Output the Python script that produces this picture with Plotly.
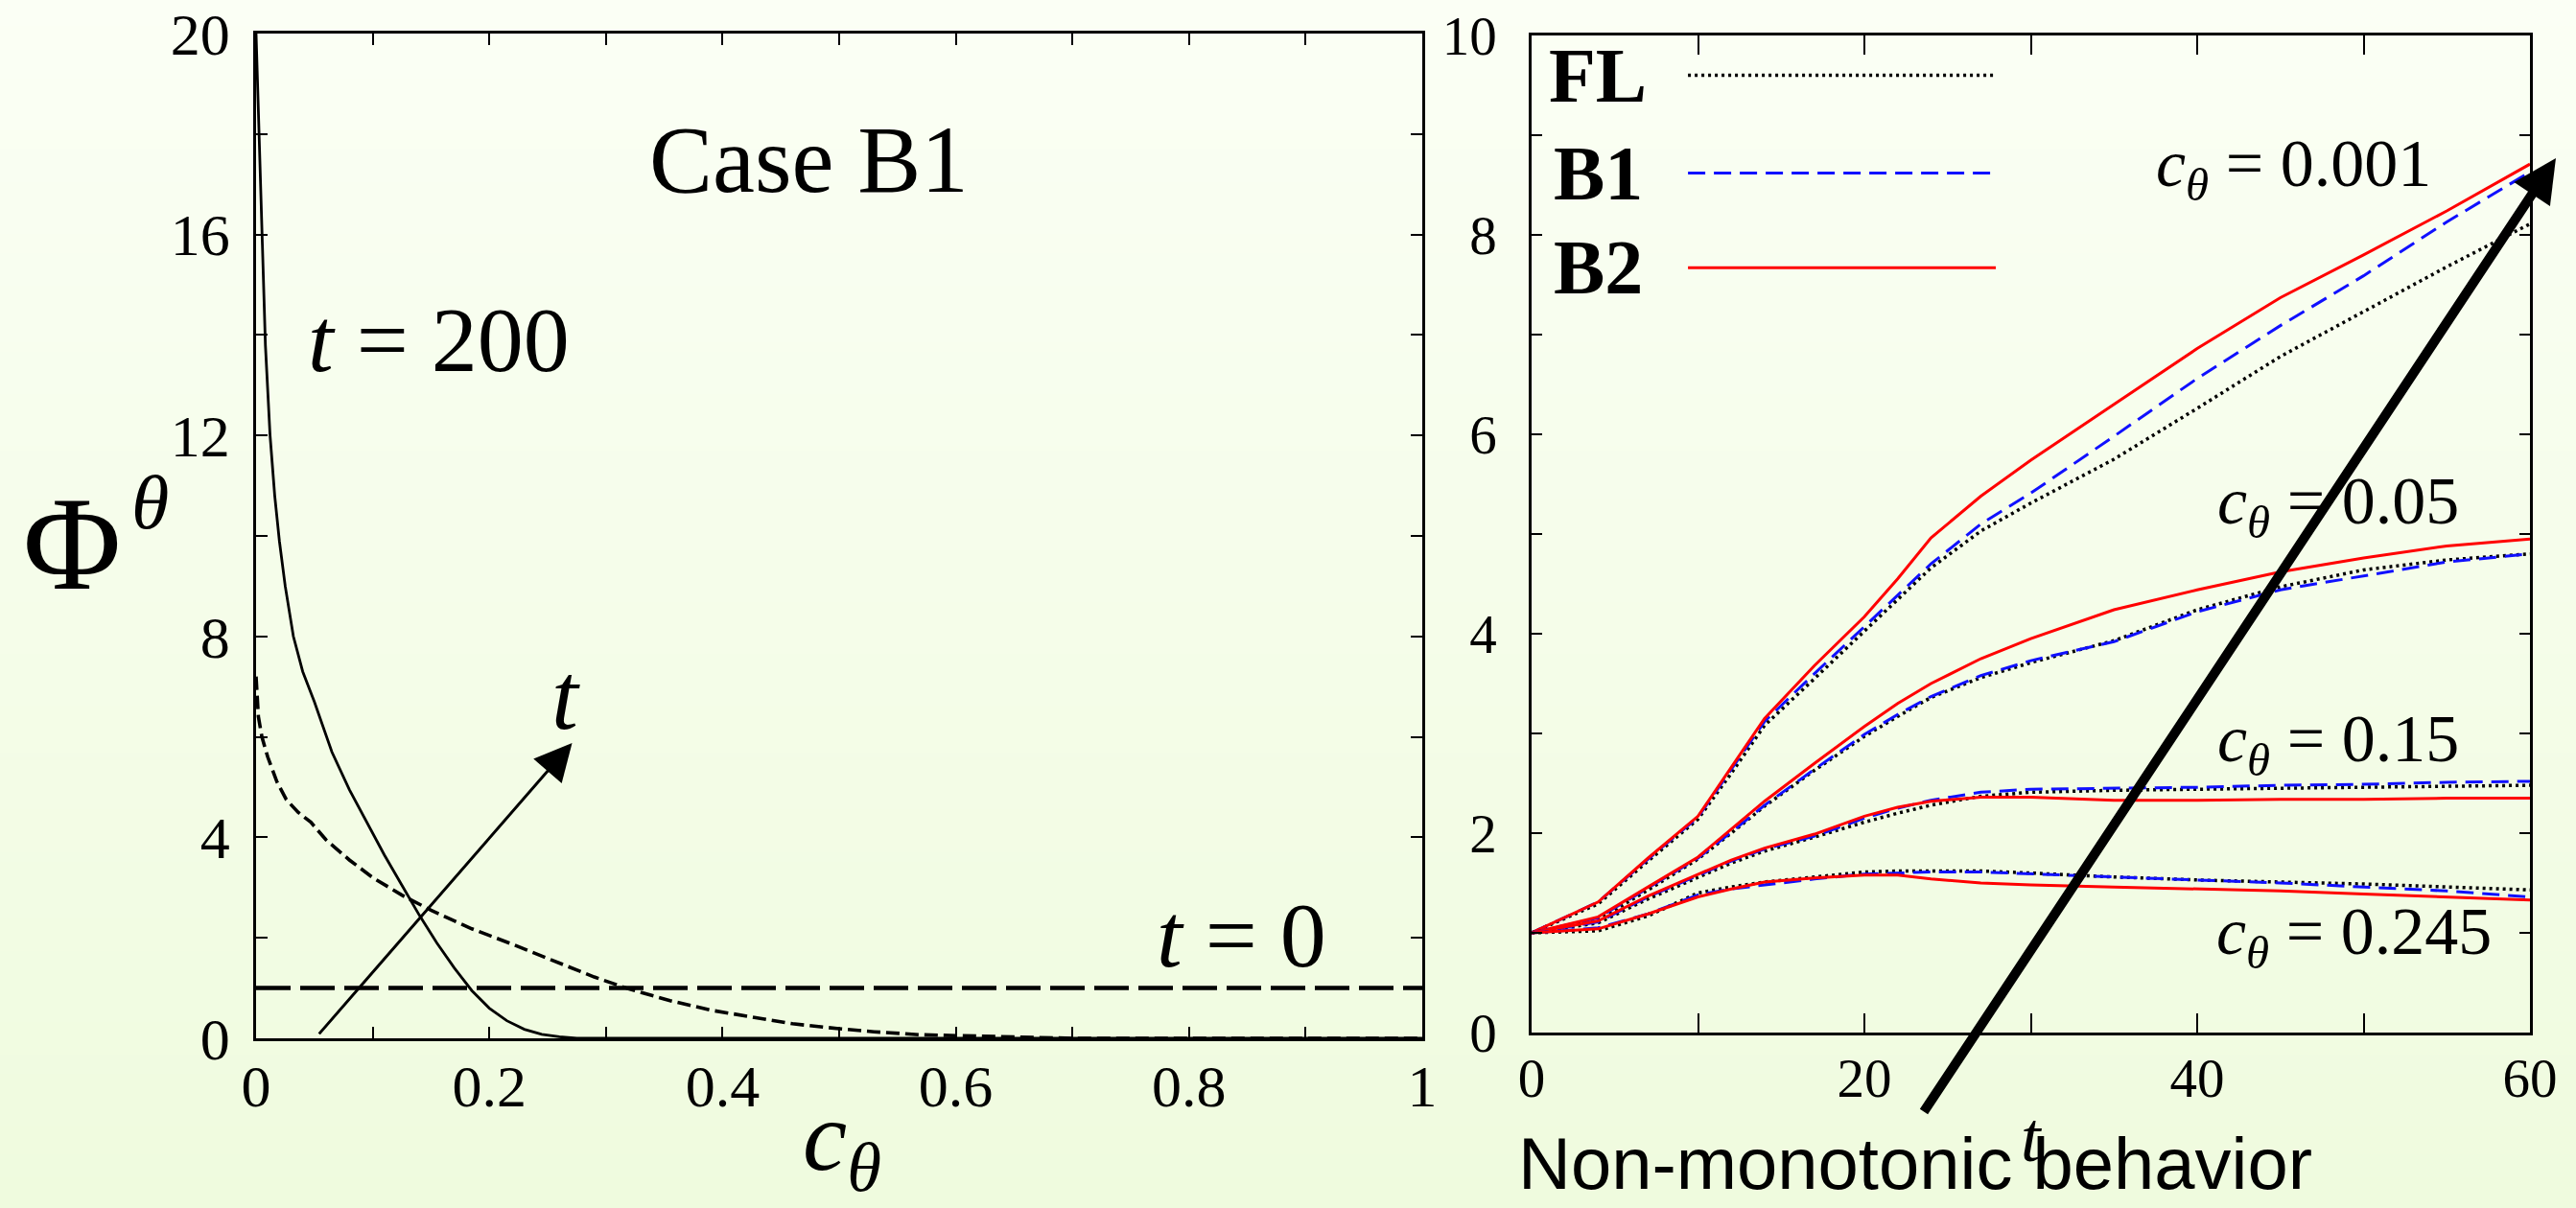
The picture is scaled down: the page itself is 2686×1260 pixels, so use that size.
import plotly.graph_objects as go
import zlib, struct, base64

W, H = 2686, 1260

# ---------------- Left panel data (Case B1) ----------------
c_t0 = [0.0, 1.0]
phi_t0 = [1.0, 1.0]

c_mid = [0.0, 0.002, 0.005, 0.010, 0.018, 0.026, 0.036, 0.047, 0.060, 0.080, 0.100,
         0.125, 0.150, 0.185, 0.220, 0.255, 0.290, 0.320, 0.355, 0.390, 0.430, 0.460,
         0.500, 0.530, 0.570, 0.600, 0.650, 0.700, 1.0]
phi_mid = [7.2, 6.4, 6.0, 5.6, 5.1, 4.75, 4.5, 4.3, 3.95, 3.55, 3.2,
           2.85, 2.55, 2.18, 1.87, 1.55, 1.22, 0.98, 0.75, 0.56, 0.40, 0.29,
           0.19, 0.13, 0.07, 0.05, 0.02, 0.0, 0.0]

c_end = [0.0, 0.002, 0.005, 0.008, 0.012, 0.016, 0.020, 0.025, 0.032, 0.040, 0.050,
         0.065, 0.080, 0.095, 0.110, 0.125, 0.140, 0.155, 0.170, 0.185, 0.200, 0.215,
         0.230, 0.245, 0.260, 0.275, 0.30, 0.40, 0.60, 1.0]
phi_end = [20.0, 18.4, 15.8, 13.8, 12.0, 10.8, 9.9, 9.0, 8.0, 7.3, 6.7,
           5.7, 4.95, 4.3, 3.65, 3.05, 2.45, 1.9, 1.4, 0.95, 0.6, 0.35,
           0.18, 0.08, 0.03, 0.0, 0.0, 0.0, 0.0, 0.0]

left_x_ticks = [0, 0.1, 0.2, 0.3, 0.4, 0.5, 0.6, 0.7, 0.8, 0.9, 1.0]
left_x_text = ["0", "", "0.2", "", "0.4", "", "0.6", "", "0.8", "", "1"]
left_y_ticks = [0, 2, 4, 6, 8, 10, 12, 14, 16, 18, 20]
left_y_text = ["0", "", "4", "", "8", "", "12", "", "16", "", "20"]

# ---------------- Right panel data ----------------
t = [0, 4, 7, 10, 12, 14, 17, 20, 22, 24, 27, 30, 35, 40, 45, 50, 55, 60]

b2_0001 = [1.0, 1.31, 1.75, 2.17, 2.66, 3.15, 3.68, 4.17, 4.55, 4.96, 5.38, 5.74, 6.30, 6.86, 7.37, 7.80, 8.24, 8.71]
b1_0001 = [1.0, 1.31, 1.74, 2.16, 2.64, 3.12, 3.60, 4.07, 4.38, 4.70, 5.10, 5.41, 5.98, 6.56, 7.09, 7.59, 8.13, 8.63]
fl_0001 = [1.0, 1.29, 1.72, 2.14, 2.60, 3.08, 3.55, 4.03, 4.35, 4.66, 5.03, 5.31, 5.75, 6.26, 6.78, 7.23, 7.68, 8.11]

b2_005 = [1.0, 1.16, 1.46, 1.76, 2.04, 2.32, 2.70, 3.07, 3.30, 3.50, 3.75, 3.95, 4.24, 4.44, 4.62, 4.76, 4.88, 4.95]
b1_005 = [1.0, 1.15, 1.45, 1.75, 2.01, 2.28, 2.64, 2.99, 3.19, 3.37, 3.58, 3.73, 3.92, 4.22, 4.44, 4.58, 4.72, 4.80]
fl_005 = [1.0, 1.13, 1.43, 1.74, 2.00, 2.27, 2.63, 2.97, 3.17, 3.36, 3.56, 3.71, 3.93, 4.24, 4.47, 4.64, 4.74, 4.80]

b2_015 = [1.0, 1.12, 1.37, 1.59, 1.73, 1.85, 1.99, 2.17, 2.26, 2.32, 2.36, 2.36, 2.33, 2.33, 2.34, 2.34, 2.35, 2.35]
b1_015 = [1.0, 1.11, 1.36, 1.58, 1.72, 1.84, 1.97, 2.15, 2.25, 2.33, 2.41, 2.44, 2.45, 2.46, 2.48, 2.49, 2.51, 2.52]
fl_015 = [1.0, 1.10, 1.34, 1.56, 1.70, 1.82, 1.96, 2.11, 2.20, 2.28, 2.37, 2.41, 2.43, 2.44, 2.45, 2.46, 2.47, 2.48]

b2_0245 = [1.0, 1.04, 1.19, 1.36, 1.44, 1.51, 1.55, 1.58, 1.58, 1.54, 1.50, 1.48, 1.46, 1.44, 1.42, 1.39, 1.36, 1.33]
b1_0245 = [1.0, 1.05, 1.19, 1.38, 1.44, 1.48, 1.54, 1.59, 1.60, 1.61, 1.61, 1.59, 1.56, 1.53, 1.50, 1.46, 1.42, 1.36]
fl_0245 = [1.0, 1.02, 1.17, 1.40, 1.46, 1.51, 1.56, 1.61, 1.62, 1.62, 1.62, 1.60, 1.56, 1.53, 1.51, 1.49, 1.46, 1.43]

right_x_ticks = [0, 10, 20, 30, 40, 50, 60]
right_x_text = ["0", "", "20", "", "40", "", "60"]
right_y_ticks = [0, 1, 2, 3, 4, 5, 6, 7, 8, 9, 10]
right_y_text = ["0", "", "2", "", "4", "", "6", "", "8", "", "10"]

c_labels = ["0.001", "0.05", "0.15", "0.245"]
legend_names = ["FL", "B1", "B2"]

# ---------------- styles ----------------
SERIF = "Liberation Serif"
SANS = "Liberation Sans"
FL_STYLE = dict(color="black", width=3.5, dash="3px,4px")
B1_STYLE = dict(color="#1010ff", width=3, dash="18px,9px")
B2_STYLE = dict(color="#ff0000", width=3)


def gradient_png(h, top, bot):
    raw = b""
    for i in range(h):
        f = i / (h - 1)
        raw += b"\x00" + bytes(round(top[k] + (bot[k] - top[k]) * f) for k in range(3))

    def chunk(tag, data):
        return (struct.pack(">I", len(data)) + tag + data +
                struct.pack(">I", zlib.crc32(tag + data) & 0xffffffff))

    png = (b"\x89PNG\r\n\x1a\n" +
           chunk(b"IHDR", struct.pack(">IIBBBBB", 1, h, 8, 2, 0, 0, 0)) +
           chunk(b"IDAT", zlib.compress(raw)) + chunk(b"IEND", b""))
    return "data:image/png;base64," + base64.b64encode(png).decode()


def P(px, py):
    return px / W, 1 - py / H


def txt(x, y, text, size, ref=("paper", "paper"), family=SERIF):
    return dict(x=x, y=y, xref=ref[0], yref=ref[1], text=text, showarrow=False,
                xanchor="center", yanchor="middle",
                font=dict(family=family, size=size, color="black"))


fig = go.Figure()

# Left panel traces
fig.add_trace(go.Scatter(x=c_t0, y=phi_t0, mode="lines", xaxis="x", yaxis="y",
                         line=dict(color="black", width=4.5, dash="36px,10px"), showlegend=False))
fig.add_trace(go.Scatter(x=c_mid, y=phi_mid, mode="lines", xaxis="x", yaxis="y",
                         line=dict(color="black", width=3.6, dash="14px,6px"), showlegend=False))
fig.add_trace(go.Scatter(x=c_end, y=phi_end, mode="lines", xaxis="x", yaxis="y",
                         line=dict(color="black", width=2.8), showlegend=False))

# Right panel traces
for fl, b1, b2 in [(fl_0001, b1_0001, b2_0001), (fl_005, b1_005, b2_005),
                   (fl_015, b1_015, b2_015), (fl_0245, b1_0245, b2_0245)]:
    fig.add_trace(go.Scatter(x=t, y=fl, mode="lines", xaxis="x2", yaxis="y2",
                             line=FL_STYLE, showlegend=False))
    fig.add_trace(go.Scatter(x=t, y=b1, mode="lines", xaxis="x2", yaxis="y2",
                             line=B1_STYLE, showlegend=False))
    fig.add_trace(go.Scatter(x=t, y=b2, mode="lines", xaxis="x2", yaxis="y2",
                             line=B2_STYLE, showlegend=False))

axis_common = dict(showline=True, linecolor="black", linewidth=2.5, mirror="ticks",
                   ticks="inside", tickcolor="black", tickwidth=2, showgrid=False,
                   zeroline=False, tickmode="array", automargin=False)

fig.update_layout(
    width=W, height=H, autosize=False,
    margin=dict(l=0, r=0, t=0, b=0, pad=0, autoexpand=False),
    paper_bgcolor="#f6fdec", plot_bgcolor="rgba(0,0,0,0)",
    xaxis=dict(axis_common, domain=[267 / W, 1483 / W], range=[0, 1], anchor="y",
               tickvals=left_x_ticks, ticktext=left_x_text, ticklen=12,
               ticklabelstandoff=-6, tickfont=dict(family=SERIF, size=62, color="black")),
    yaxis=dict(axis_common, domain=[1 - 1083 / H, 1 - 35 / H], range=[0, 20], anchor="x",
               tickvals=left_y_ticks, ticktext=left_y_text, ticklen=12,
               ticklabelstandoff=12, tickfont=dict(family=SERIF, size=62, color="black")),
    xaxis2=dict(axis_common, domain=[1597 / W, 2638 / W], range=[0, 60], anchor="y2",
                tickvals=right_x_ticks, ticktext=right_x_text, ticklen=20,
                ticklabelstandoff=-4, tickfont=dict(family=SERIF, size=57, color="black")),
    yaxis2=dict(axis_common, domain=[1 - 1077 / H, 1 - 37 / H], range=[0, 10], anchor="x2",
                tickvals=right_y_ticks, ticktext=right_y_text, ticklen=11,
                ticklabelstandoff=22, tickfont=dict(family=SERIF, size=57, color="black")),
    images=[dict(source=gradient_png(256, (251, 255, 245), (239, 251, 222)),
                 xref="paper", yref="paper", x=0, y=1, sizex=1, sizey=1,
                 xanchor="left", yanchor="top", sizing="stretch", layer="below")],
)

ann = []
XY = ("x", "y")
XY2 = ("x2", "y2")
# Left panel texts
ann.append(txt(0.474, 17.5, "Case B1", 99, XY))
ann.append(txt(0.157, 13.9, "<i>t</i> = 200", 96, XY))
ann.append(txt(0.845, 2.05, "<i>t</i> = 0", 96, XY))
ann.append(txt(0.266, 6.8, "<i>t</i>", 100, XY))
# left arrow
ann.append(dict(x=0.271, y=5.88, xref="x", yref="y", ax=0.053, ay=0.06, axref="x", ayref="y",
                text="", showarrow=True, arrowhead=2, arrowsize=2.6, arrowwidth=3,
                arrowcolor="black"))
# Phi^theta
ann.append(txt(*P(75, 566), "Φ", 140))
ann.append(txt(*P(156, 524), "<i>θ</i>", 80))
# c_theta x label
ann.append(txt(*P(878, 1192), "<i>c</i><sub><i>θ</i></sub>", 104))

# Right panel: legend
legend_y = [9.6, 8.62, 7.67]
legend_styles = [FL_STYLE, B1_STYLE, B2_STYLE]
shapes = []
for name, ly, st in zip(legend_names, legend_y, legend_styles):
    ann.append(txt(4.0, ly, "<b>%s</b>" % name, 80, XY2))
    shapes.append(dict(type="line", xref="x2", yref="y2", x0=9.4, x1=27.9, y0=ly, y1=ly,
                       line=st))

# c_theta labels
c_pos = [(45.8, 8.66), (48.5, 5.28), (48.5, 2.89), (49.45, 0.96)]
for lab, (lx, ly) in zip(c_labels, c_pos):
    ann.append(txt(lx, ly, "<i>c</i><sub><i>θ</i></sub> = %s" % lab, 70, XY2))

# big arrow (paper coordinates since it leaves the axes)
px, py = P(2665, 165)
ann.append(dict(x=px, y=py, xref="paper", yref="paper", ax=2005 - 2665, ay=1161 - 165,
                text="", showarrow=True, arrowhead=2, arrowsize=0.9, arrowwidth=10,
                arrowcolor="black"))
ann.append(txt(*P(2118, 1186), "<i>t</i>", 74))
ann.append(txt(*P(1997, 1213), "Non-monotonic behavior", 76, family=SANS))

fig.update_layout(annotations=ann, shapes=shapes)
fig.write_html("out.html")
